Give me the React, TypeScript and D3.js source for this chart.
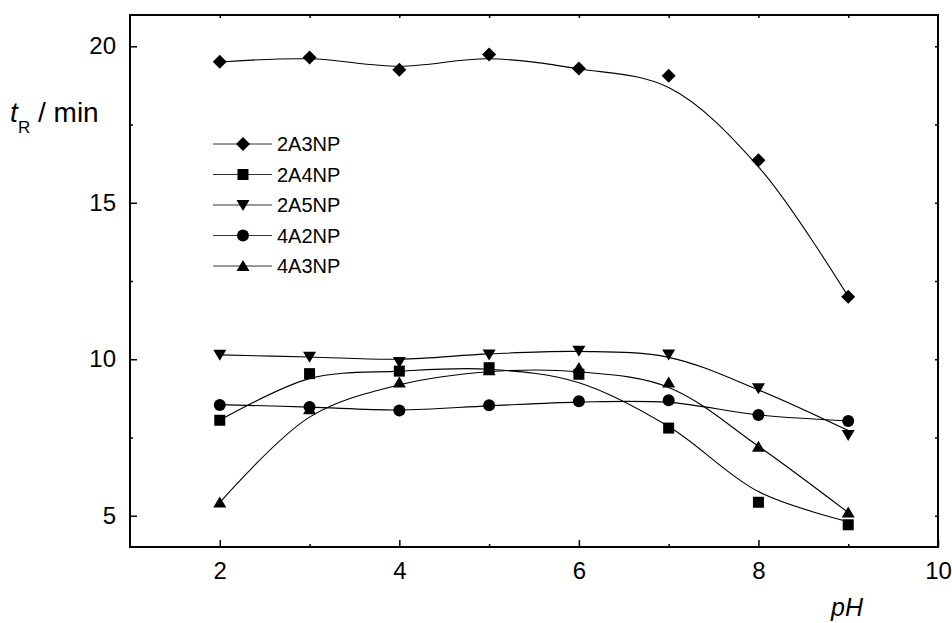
import React, { useEffect, useRef } from "react";
import * as d3 from "d3";

// pH values (x)
const pH = [2, 3, 4, 5, 6, 7, 8, 9];

// measured retention times (markers)
const s2A3NP = [19.51, 19.64, 19.25, 19.74, 19.29, 19.06, 16.36, 12.0];
const s2A4NP = [8.05, 9.54, 9.62, 9.73, 9.52, 7.8, 5.43, 4.71];
const s2A5NP = [10.14, 10.08, 9.91, 10.15, 10.27, 10.15, 9.07, 7.58];
const s4A2NP = [8.54, 8.47, 8.36, 8.53, 8.66, 8.69, 8.22, 8.03];
const s4A3NP = [5.42, 8.4, 9.26, 9.65, 9.72, 9.26, 7.2, 5.1];

// smoothed fit curves at each pH
const fit2A3NP = [19.5, 19.6, 19.36, 19.6, 19.28, 18.68, 16.15, 12.0];
const fit2A4NP = [8.05, 9.38, 9.62, 9.68, 9.25, 7.85, 5.77, 4.81];
const fit2A5NP = [10.14, 10.07, 10.0, 10.17, 10.25, 10.06, 9.02, 7.72];
const fit4A2NP = [8.55, 8.47, 8.38, 8.51, 8.63, 8.62, 8.22, 8.03];
const fit4A3NP = [5.42, 8.15, 9.18, 9.6, 9.6, 9.1, 7.22, 5.1];

const names = ["2A3NP", "2A4NP", "2A5NP", "4A2NP", "4A3NP"];
const markers = ["diamond", "square", "down", "circle", "up"];

const xMajor = [2, 4, 6, 8, 10];
const xMinor = [3, 5, 7, 9];
const yMajor = [5, 10, 15, 20];
const yMinor = [7.5, 12.5, 17.5];

const FONT = "'Liberation Sans', Arial, Helvetica, sans-serif";

const markerPath = (kind: string) => {
  switch (kind) {
    case "diamond":
      return "M0,-7L7,0L0,7L-7,0Z";
    case "square":
      return "M-5.5,-5.5H5.5V5.5H-5.5Z";
    case "down":
      return "M-6.5,-5L6.5,-5L0,6Z";
    case "up":
      return "M-6.5,5L6.5,5L0,-6Z";
    default:
      return "M6,0A6,6 0 1,1 -6,0A6,6 0 1,1 6,0Z";
  }
};

const App = () => {
  const svgRef = useRef<SVGSVGElement>(null);

  useEffect(() => {
    const svg = d3.select(svgRef.current);
    svg.selectAll("*").remove();

    const x = d3.scaleLinear().domain([1, 10]).range([130, 938]);
    const y = d3.scaleLinear().domain([4, 21]).range([547, 15]);

    const series = [
      { name: names[0], pts: s2A3NP, fit: fit2A3NP, marker: markers[0] },
      { name: names[1], pts: s2A4NP, fit: fit2A4NP, marker: markers[1] },
      { name: names[2], pts: s2A5NP, fit: fit2A5NP, marker: markers[2] },
      { name: names[3], pts: s4A2NP, fit: fit4A2NP, marker: markers[3] },
      { name: names[4], pts: s4A3NP, fit: fit4A3NP, marker: markers[4] },
    ];

    // bottom axis, major ticks inward with labels
    const gx = svg
      .append("g")
      .attr("transform", "translate(0,547)")
      .call(d3.axisBottom(x).tickValues(xMajor).tickSizeInner(-7).tickSizeOuter(0).tickPadding(15).tickFormat(d3.format("d")));
    gx.select(".domain").remove();
    gx.selectAll("line").attr("stroke", "#000").attr("stroke-width", 1.5);
    gx.selectAll("text").attr("font-family", FONT).attr("font-size", 24).attr("fill", "#000");

    svg
      .append("g")
      .attr("transform", "translate(0,547)")
      .call(d3.axisBottom(x).tickValues(xMinor).tickSizeInner(-3).tickSizeOuter(0).tickFormat(() => ""))
      .call((g) => g.select(".domain").remove())
      .selectAll("line")
      .attr("stroke-width", 1.5);

    // top axis, small inward ticks
    svg
      .append("g")
      .attr("transform", "translate(0,15)")
      .call(d3.axisTop(x).tickValues(pH).tickSizeInner(-3).tickSizeOuter(0).tickFormat(() => ""))
      .call((g) => g.select(".domain").remove())
      .selectAll("line")
      .attr("stroke-width", 1.5);

    // left axis
    const gy = svg
      .append("g")
      .attr("transform", "translate(130,0)")
      .call(d3.axisLeft(y).tickValues(yMajor).tickSizeInner(-7).tickSizeOuter(0).tickPadding(14).tickFormat(d3.format("d")));
    gy.select(".domain").remove();
    gy.selectAll("line").attr("stroke", "#000").attr("stroke-width", 1.5);
    gy.selectAll("text").attr("font-family", FONT).attr("font-size", 24).attr("fill", "#000");

    svg
      .append("g")
      .attr("transform", "translate(130,0)")
      .call(d3.axisLeft(y).tickValues(yMinor).tickSizeInner(-3).tickSizeOuter(0).tickFormat(() => ""))
      .call((g) => g.select(".domain").remove())
      .selectAll("line")
      .attr("stroke-width", 1.5);

    // right axis, small inward ticks
    svg
      .append("g")
      .attr("transform", "translate(938,0)")
      .call(d3.axisRight(y).tickValues(yMajor.concat(yMinor)).tickSizeInner(-3).tickSizeOuter(0).tickFormat(() => ""))
      .call((g) => g.select(".domain").remove())
      .selectAll("line")
      .attr("stroke-width", 1.5);

    // frame
    svg
      .append("rect")
      .attr("x", x(1))
      .attr("y", y(21))
      .attr("width", x(10) - x(1))
      .attr("height", y(4) - y(21))
      .attr("fill", "none")
      .attr("stroke", "#000")
      .attr("stroke-width", 2);

    // fitted curves
    const line = d3
      .line<number>()
      .x((d, i) => x(pH[i]))
      .y((d) => y(d))
      .curve(d3.curveCatmullRom.alpha(0.5));

    series.forEach((s) => {
      svg
        .append("path")
        .attr("d", line(s.fit))
        .attr("fill", "none")
        .attr("stroke", "#000")
        .attr("stroke-width", 1.1);
    });

    // markers
    series.forEach((s) => {
      svg
        .append("g")
        .selectAll("path")
        .data(s.pts)
        .enter()
        .append("path")
        .attr("d", markerPath(s.marker))
        .attr("transform", (d, i) => "translate(" + x(pH[i]) + "," + y(d) + ")")
        .attr("fill", "#000");
    });

    // legend
    const legend = svg.append("g");
    series.forEach((s, i) => {
      const ly = 144 + i * 30.5;
      legend.append("line").attr("x1", 213).attr("x2", 272).attr("y1", ly).attr("y2", ly).attr("stroke", "#333").attr("stroke-width", 1);
      legend.append("path").attr("d", markerPath(s.marker)).attr("transform", "translate(243," + ly + ")").attr("fill", "#000");
      legend
        .append("text")
        .attr("x", 277)
        .attr("y", ly + 7)
        .attr("font-family", FONT)
        .attr("font-size", 20)
        .text(s.name);
    });

    // axis titles
    const yl = svg.append("text").attr("font-family", FONT).attr("font-size", 28).attr("fill", "#000");
    yl.append("tspan").attr("x", 10).attr("y", 122).attr("font-style", "italic").text("t");
    yl.append("tspan").attr("x", 18).attr("y", 133).attr("font-size", 17).text("R");
    yl.append("tspan").attr("x", 38).attr("y", 122).text("/ min");

    svg
      .append("text")
      .attr("x", 831)
      .attr("y", 616)
      .attr("font-family", FONT)
      .attr("font-size", 25)
      .attr("font-style", "italic")
      .text("pH");
  }, []);

  return (
    <svg
      ref={svgRef}
      width={952}
      height={623}
      style={{ position: "absolute", left: 0, top: 0, background: "#fff" }}
    ></svg>
  );
};

export default App;
